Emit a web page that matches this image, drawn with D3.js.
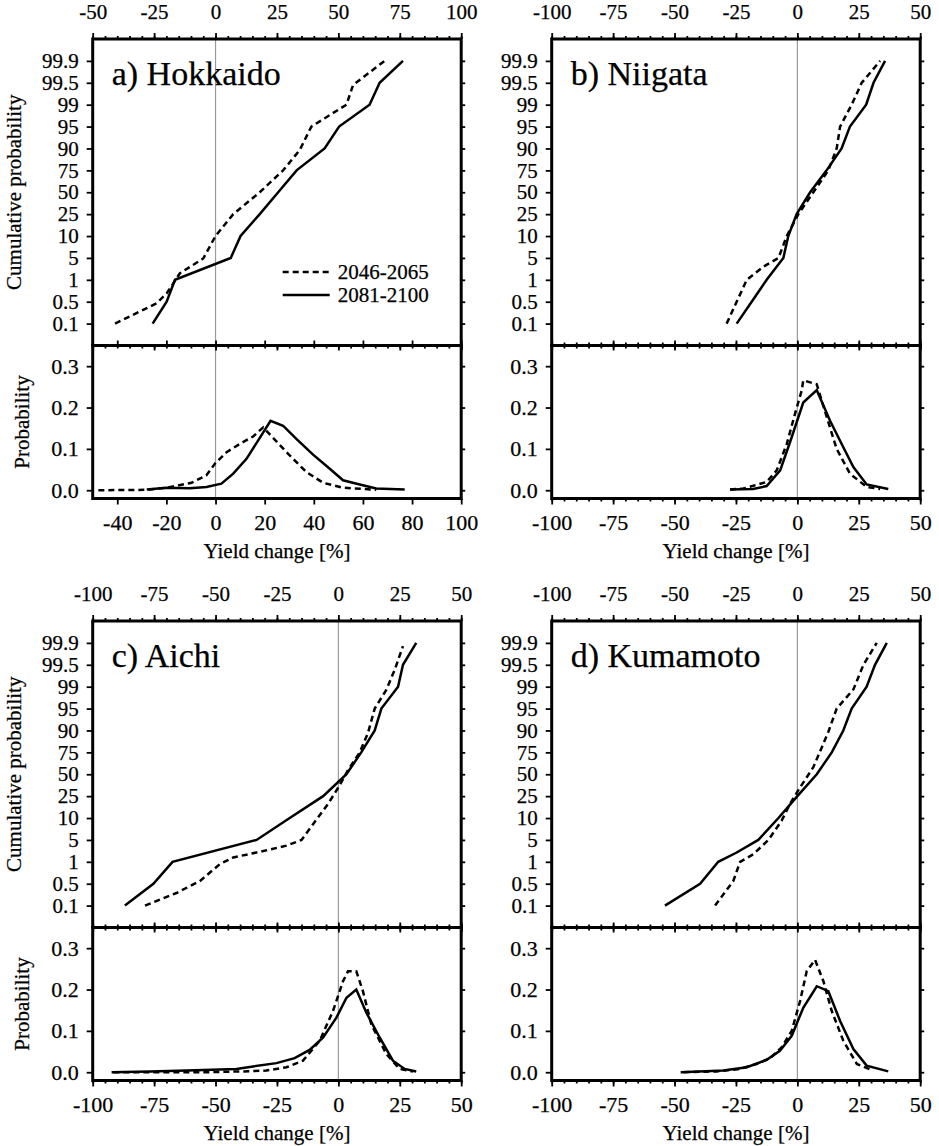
<!DOCTYPE html>
<html>
<head>
<meta charset="utf-8">
<script src="https://cdn.jsdelivr.net/npm/d3@7"></script>
<style>
  body { margin: 0; background: #fff; }
  svg text { font-family: "Liberation Serif", "Times New Roman", Times, Tinos, "DejaVu Serif", "Noto Serif", serif; fill: #000; stroke: #000; stroke-width: 0.25px; }
</style>
</head>
<body>
<svg id="chart" width="939" height="1146"></svg>
<script>
var cdfLevels = [0.1, 0.5, 1, 5, 10, 25, 50, 75, 90, 95, 99, 99.5, 99.9]
var pdfTicks = [0, 0.1, 0.2, 0.3]
var periods = ["2046-2065", "2081-2100"]

// cumulative curves: [yield change %, cumulative probability %]
var hokkaidoCdf2046 = [[-40.9,0.1],[-24,0.47],[-19.9,0.69],[-14.5,2.2],[-5,4.9],[0,10],[7.2,25],[18,50],[27.5,75],[34.3,89],[39,95],[53.3,99],[56,99.45],[68.8,99.9]]
var hokkaidoCdf2081 = [[-25.6,0.1],[-19.9,0.5],[-16.5,1],[6.2,5],[10.2,10],[18,25],[25.5,50],[33,75],[44.4,90],[50.3,95],[62.7,99],[66.8,99.5],[76.3,99.9]]
var niigataCdf2046 = [[-28.8,0.1],[-24.7,0.5],[-20.6,1],[-13.8,3.4],[-7.7,5],[-4.3,10],[0.4,25],[6.5,50],[12.6,75],[16,90],[17.4,95],[22.1,99],[26.2,99.5],[33.7,99.9]]
var niigataCdf2081 = [[-24.7,0.1],[-18.6,0.5],[-12.5,1],[-5.7,5],[-3.7,10],[-0.3,25],[5.2,50],[11.9,75],[18,90],[21.4,95],[28,99],[31,99.5],[35.7,99.9]]
var aichiCdf2046 = [[-78.7,0.1],[-65.9,0.33],[-56.4,0.56],[-48.2,0.95],[-42.8,1.8],[-33.3,2.7],[-21.1,3.95],[-15,5],[-10.3,8.6],[-4.2,19.7],[0,35],[3.9,54.6],[8.7,75],[12,88],[14.8,95],[19.5,98.4],[22.9,99.38],[26.3,99.84]]
var aichiCdf2081 = [[-86.9,0.1],[-75.3,0.5],[-67.5,1],[-33.3,5],[-19.8,10],[-6.2,25],[3.3,50],[9.3,75],[14.8,90],[17.5,95],[24.3,99],[26.3,99.5],[31.7,99.9]]
var kumamotoCdf2046 = [[-33.5,0.1],[-26.1,0.56],[-23.3,1],[-17.9,2.4],[-11.8,5],[-6.4,9.4],[-3,19.7],[1.1,35],[6.5,58],[12.6,89],[16,95],[22.8,98.5],[26.9,99.5],[32.3,99.9]]
var kumamotoCdf2081 = [[-53.9,0.1],[-39.6,0.5],[-32.2,1],[-24.7,2.7],[-15.9,5],[-7.7,10],[0,25],[7.9,50],[14,75],[18.7,90],[22.1,95],[28.2,99],[31.6,99.5],[36.4,99.9]]

// probability curves: [yield change %, probability]
var hokkaidoPdf2046 = [[-47.7,0],[-28,0.001],[-19.9,0.006],[-9.8,0.018],[-3.7,0.036],[0,0.066],[4.5,0.092],[9.9,0.112],[15.3,0.13],[19.4,0.152],[24.8,0.118],[30.2,0.084],[37,0.044],[43.8,0.018],[51.9,0.006],[65.4,0.001]]
var hokkaidoPdf2081 = [[-28,0.002],[-19.9,0.006],[-10.4,0.005],[-3.7,0.008],[2.4,0.016],[7.2,0.04],[12.6,0.076],[17.3,0.12],[22.4,0.168],[27.5,0.156],[32.9,0.124],[39.7,0.086],[46.5,0.052],[51.9,0.024],[58.7,0.014],[65.4,0.004],[77,0.002]]
var niigataPdf2046 = [[-27.4,0.002],[-22,0.004],[-17.9,0.011],[-12.5,0.02],[-8.4,0.048],[-4.3,0.112],[-1,0.184],[1.8,0.242],[2.4,0.266],[7.9,0.256],[12,0.176],[16,0.1],[21.4,0.04],[28.2,0.008],[33.7,0.003]]
var niigataPdf2081 = [[-27.4,0.002],[-18,0.003],[-12.5,0.01],[-7,0.048],[-3,0.116],[2.4,0.212],[7.9,0.242],[13.3,0.168],[18.7,0.104],[22.8,0.056],[28.2,0.014],[37,0.003]]
var aichiPdf2046 = [[-91.6,0],[-53.7,0],[-38.8,0.002],[-29.3,0.004],[-21.1,0.012],[-14.4,0.028],[-7.6,0.076],[-2.2,0.148],[1.9,0.22],[3.9,0.244],[7.3,0.244],[10,0.196],[13.4,0.116],[19.5,0.044],[24.9,0.008],[30.4,0.002]]
var aichiPdf2081 = [[-92.3,0],[-76.7,0.002],[-61.8,0.004],[-41.5,0.008],[-34.7,0.014],[-25.2,0.022],[-17.8,0.034],[-11.7,0.054],[-6.2,0.084],[-0.8,0.132],[3.3,0.18],[7.3,0.2],[11.4,0.144],[16.8,0.084],[22.2,0.028],[27,0.008],[31.7,0.002]]
var kumamotoPdf2046 = [[-46.4,0],[-32.8,0.002],[-23.3,0.008],[-16.6,0.02],[-11.1,0.034],[-6.4,0.06],[-2.3,0.1],[1.1,0.172],[3.8,0.244],[7.2,0.272],[10.6,0.22],[14,0.148],[18.7,0.076],[24.2,0.02],[30.9,0.004]]
var kumamotoPdf2081 = [[-47.5,0],[-30.1,0.004],[-20.6,0.012],[-12.5,0.03],[-7.1,0.052],[-2.3,0.088],[2.4,0.156],[7.9,0.208],[12.6,0.196],[17.4,0.124],[22.8,0.056],[28.2,0.016],[37,0.002]]

var panels = [
    { label: "a) Hokkaido", col: 0, row: 0, xDomain: [-50, 100], botStep: 20, botMinor: false,
      cdf: [hokkaidoCdf2046, hokkaidoCdf2081], pdf: [hokkaidoPdf2046, hokkaidoPdf2081], titles: true, legend: true },
    { label: "b) Niigata", col: 1, row: 0, xDomain: [-100, 50], botStep: 25, botMinor: true,
      cdf: [niigataCdf2046, niigataCdf2081], pdf: [niigataPdf2046, niigataPdf2081], titles: false, legend: false },
    { label: "c) Aichi", col: 0, row: 1, xDomain: [-100, 50], botStep: 25, botMinor: true,
      cdf: [aichiCdf2046, aichiCdf2081], pdf: [aichiPdf2046, aichiPdf2081], titles: true, legend: false },
    { label: "d) Kumamoto", col: 1, row: 1, xDomain: [-100, 50], botStep: 25, botMinor: true,
      cdf: [kumamotoCdf2046, kumamotoCdf2081], pdf: [kumamotoPdf2046, kumamotoPdf2081], titles: false, legend: false }
]

var svg = d3.select("#chart")
var lefts = [92.7, 551.7]
var tops = [39, 621]
var width = 368.5
var topH = 306.5
var botH = 153
var fontSize = 21
var tickFont = 22

function styleAxis(g, size) {
    g.select(".domain").remove()
    g.attr("font-family", null).attr("font-size", size || tickFont)
    g.selectAll(".tick line").attr("stroke", "#000").attr("stroke-width", 1.8)
}

function drawPanel(p) {
    var g = svg.append("g")
        .attr("transform", `translate(${lefts[p.col]},${tops[p.row]})`)

    var x = d3.scaleLinear().domain(p.xDomain).range([0, width])

    // equally spaced probability levels
    var yPoint = d3.scalePoint().domain(cdfLevels).range([topH, 0]).padding(1)
    var yCdf = d3.scaleLinear().domain(cdfLevels).range(cdfLevels.map(d => yPoint(d)))
    var yPdf = d3.scaleLinear().domain([-0.02, 0.35]).range([topH + botH, topH])

    var topMajor = d3.range(p.xDomain[0], p.xDomain[1] + 1, 25)
    var minor = d3.range(p.xDomain[0], p.xDomain[1] + 1, 5)
    var botMajor = d3.range(Math.ceil(p.xDomain[0] / p.botStep) * p.botStep, p.xDomain[1] + 1, p.botStep)

    // zero line
    g.append("line")
        .attr("x1", x(0)).attr("x2", x(0))
        .attr("y1", 0).attr("y2", topH + botH)
        .attr("stroke", "#9a9a9a")
        .attr("stroke-width", 1.2)

    // top subplot: top axis
    g.append("g").call(d3.axisTop(x).tickValues(minor).tickSize(3).tickFormat(""))
        .call(a => styleAxis(a))
    g.append("g").call(d3.axisTop(x).tickValues(topMajor).tickSize(6).tickPadding(14).tickFormat(d => String(d)))
        .call(a => styleAxis(a, fontSize))

    // top subplot: bottom edge
    g.append("g").attr("transform", `translate(0,${topH})`)
        .call(d3.axisBottom(x).tickValues(minor).tickSize(3).tickFormat(""))
        .call(a => styleAxis(a))
    g.append("g").attr("transform", `translate(0,${topH})`)
        .call(d3.axisBottom(x).tickValues(topMajor).tickSize(5).tickFormat(""))
        .call(a => styleAxis(a))

    // bottom subplot: top edge
    if (p.botMinor) {
        g.append("g").attr("transform", `translate(0,${topH})`)
            .call(d3.axisTop(x).tickValues(minor).tickSize(3).tickFormat(""))
            .call(a => styleAxis(a))
    }
    g.append("g").attr("transform", `translate(0,${topH})`)
        .call(d3.axisTop(x).tickValues(botMajor).tickSize(5).tickFormat(""))
        .call(a => styleAxis(a))

    // bottom subplot: bottom axis
    if (p.botMinor) {
        g.append("g").attr("transform", `translate(0,${topH + botH})`)
            .call(d3.axisBottom(x).tickValues(minor).tickSize(3).tickFormat(""))
            .call(a => styleAxis(a))
    }
    g.append("g").attr("transform", `translate(0,${topH + botH})`)
        .call(d3.axisBottom(x).tickValues(botMajor).tickSize(6).tickPadding(10).tickFormat(d => String(d)))
        .call(a => styleAxis(a))

    // left / right axes
    g.append("g").call(d3.axisLeft(yCdf).tickValues(cdfLevels).tickSize(6).tickPadding(8).tickFormat(d => String(d)))
        .call(a => styleAxis(a, 21))
    g.append("g").attr("transform", `translate(${width},0)`)
        .call(d3.axisRight(yCdf).tickValues(cdfLevels).tickSize(4).tickFormat(""))
        .call(a => styleAxis(a))
    g.append("g").call(d3.axisLeft(yPdf).tickValues(pdfTicks).tickSize(6).tickPadding(8).tickFormat(d3.format(".1f")))
        .call(a => styleAxis(a, 22))
    g.append("g").attr("transform", `translate(${width},0)`)
        .call(d3.axisRight(yPdf).tickValues(pdfTicks).tickSize(4).tickFormat(""))
        .call(a => styleAxis(a))

    // data lines
    var cdfLine = d3.line().x(d => x(d[0])).y(d => yCdf(d[1]))
    var pdfLine = d3.line().x(d => x(d[0])).y(d => yPdf(d[1]))

    p.cdf.forEach((series, i) => {
        g.append("path").datum(series)
            .attr("d", cdfLine)
            .attr("fill", "none")
            .attr("stroke", "#000")
            .attr("stroke-width", 2.5)
            .attr("stroke-dasharray", i == 0 ? "6,4" : null)
    })
    p.pdf.forEach((series, i) => {
        g.append("path").datum(series)
            .attr("d", pdfLine)
            .attr("fill", "none")
            .attr("stroke", "#000")
            .attr("stroke-width", 2.5)
            .attr("stroke-dasharray", i == 0 ? "6,4" : null)
    })

    // frames
    g.append("rect")
        .attr("x", 0).attr("y", 0).attr("width", width).attr("height", topH)
        .attr("fill", "none").attr("stroke", "#000").attr("stroke-width", 3)
    g.append("rect")
        .attr("x", 0).attr("y", topH).attr("width", width).attr("height", botH)
        .attr("fill", "none").attr("stroke", "#000").attr("stroke-width", 3)

    // panel label
    g.append("text")
        .attr("x", 19).attr("y", 46)
        .attr("font-size", 34)
        .text(p.label)

    g.append("text")
        .attr("x", width / 2).attr("y", topH + botH + 59)
        .attr("text-anchor", "middle")
        .attr("font-size", fontSize)
        .text("Yield change [%]")

    if (p.titles) {
        g.append("text")
            .attr("transform", `translate(-72,${topH / 2}) rotate(-90)`)
            .attr("text-anchor", "middle")
            .attr("font-size", fontSize)
            .text("Cumulative probability")
        g.append("text")
            .attr("transform", `translate(-64,${topH + botH / 2}) rotate(-90)`)
            .attr("text-anchor", "middle")
            .attr("font-size", fontSize)
            .text("Probability")
    }

    if (p.legend) {
        var legend = g.append("g").attr("transform", "translate(190,233)")
        periods.forEach((name, i) => {
            legend.append("line")
                .attr("x1", 0).attr("x2", 47)
                .attr("y1", i * 23).attr("y2", i * 23)
                .attr("stroke", "#000")
                .attr("stroke-width", 2.5)
                .attr("stroke-dasharray", i == 0 ? "6,4" : null)
            legend.append("text")
                .attr("x", 55).attr("y", i * 23 + 7)
                .attr("font-size", fontSize)
                .text(name)
        })
    }
}

panels.forEach(drawPanel)
</script>
</body>
</html>
